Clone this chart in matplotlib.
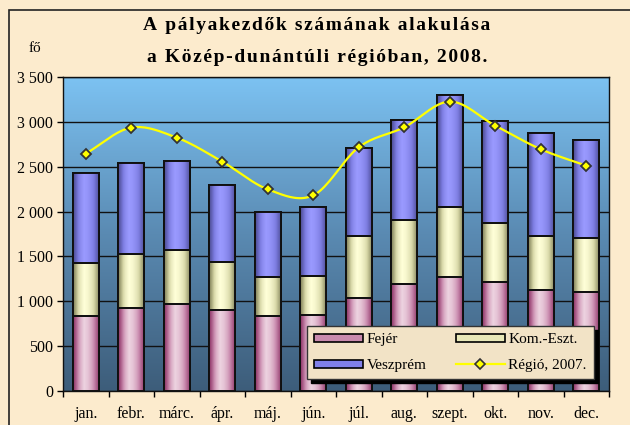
import matplotlib
matplotlib.use("Agg")
import matplotlib.pyplot as plt
import numpy as np
from matplotlib.colors import LinearSegmentedColormap
from matplotlib.patches import Rectangle
from matplotlib.lines import Line2D
from matplotlib.ticker import FuncFormatter, MultipleLocator, FixedLocator

months = ["jan.", "febr.", "márc.", "ápr.", "máj.", "jún.",
          "júl.", "aug.", "szept.", "okt.", "nov.", "dec."]
fejer = [840, 930, 970, 905, 840, 845, 1035, 1190, 1275, 1212, 1123, 1104]
kom_eszt = [585, 600, 600, 538, 428, 434, 695, 720, 773, 658, 609, 605]
veszprem = [1002, 1008, 990, 850, 732, 769, 983, 1115, 1249, 1136, 1141, 1093]
regio_2007 = [2646, 2936, 2824, 2557, 2248, 2181, 2717, 2940, 3226, 2958, 2695, 2512]

SERIF = ["Liberation Serif", "DejaVu Serif"]
plt.rcParams["font.family"] = SERIF


def spaced(s):
    # the original uses a widely spaced title font
    return "\u200a".join(s)


W, H = 630, 425
fig = plt.figure(figsize=(W / 100, H / 100), dpi=100)
fig.patch.set_facecolor("#FCEBCD")

# outer frame (cropped at right/bottom in the original)
fig.patches.append(Rectangle((9 / W, -0.05), 1.2, (H - 10) / H + 0.05, transform=fig.transFigure,
                             fill=False, edgecolor="#222222", lw=1.2))

ax = fig.add_axes([63 / W, (H - 391) / H, 546 / W, 314 / H])
ax.set_facecolor("none")

# plot-area background gradient
bg = LinearSegmentedColormap.from_list("bg", ["#3D5D7A", "#5A8AB2", "#7CC2F2"])
ax.imshow(np.linspace(0, 1, 256).reshape(-1, 1), cmap=bg, aspect="auto",
          extent=(-0.5, 11.5, 0, 3500), origin="lower", zorder=0)

x = np.arange(len(months))
width = 0.57

profile = np.array([0.0, 0.35, 0.75, 1.0, 0.9, 0.7, 0.4, 0.1])
prof = np.interp(np.linspace(0, 1, 64), np.linspace(0, 1, len(profile)), profile).reshape(1, -1)

series = [
    ("Fejér", fejer, ["#8A2F62", "#C98AAE", "#EDD3E0"], "#C98AAE"),
    ("Kom.-Eszt.", kom_eszt, ["#7D7D55", "#D8D8A8", "#FFFFD8"], "#E8E8B8"),
    ("Veszprém", veszprem, ["#4A4A90", "#7C7CE0", "#9A9AFF"], "#8080E8"),
]

bottom = np.zeros(len(months))
for name, vals, cols, mid in series:
    cmap = LinearSegmentedColormap.from_list(name, cols)
    bars = ax.bar(x, vals, width, bottom=bottom, facecolor=mid, edgecolor="black",
                  lw=1.4, zorder=2)
    for b in bars:
        x0, y0 = b.get_x(), b.get_y()
        im = ax.imshow(prof, cmap=cmap, aspect="auto", vmin=0, vmax=1,
                       extent=(x0, x0 + b.get_width(), y0, y0 + b.get_height()), zorder=2.5)
        im.set_clip_path(b)
    ax.bar(x, vals, width, bottom=bottom, facecolor="none", edgecolor="#111111", lw=1.4, zorder=3)
    bottom += np.array(vals)


# smoothed line (Catmull-Rom through the data points, as Excel's smoothing)
def catmull_rom(px, py, n=20):
    px = np.asarray(px, float)
    py = np.asarray(py, float)
    P = np.column_stack([px, py])
    P = np.vstack([P[0] - (P[1] - P[0]), P, P[-1] + (P[-1] - P[-2])])
    out = []
    for i in range(1, len(P) - 2):
        p0, p1, p2, p3 = P[i - 1], P[i], P[i + 1], P[i + 2]
        t = np.linspace(0, 1, n, endpoint=False)[:, None]
        out.append(0.5 * ((2 * p1) + (-p0 + p2) * t + (2 * p0 - 5 * p1 + 4 * p2 - p3) * t ** 2
                          + (-p0 + 3 * p1 - 3 * p2 + p3) * t ** 3))
    out.append(P[-2][None, :])
    out = np.vstack(out)
    return out[:, 0], out[:, 1]


sx, sy = catmull_rom(x, regio_2007)
ax.plot(sx, sy, color="#FFFF00", lw=1.6, zorder=4)
ax.plot(x, regio_2007, ls="none", marker="D", ms=5.5, mfc="#FFFF00", mec="#333333",
        mew=1.3, zorder=5)

# grid + axes
ax.set_xlim(-0.5, 11.5)
ax.set_ylim(0, 3500)
ax.yaxis.set_major_locator(MultipleLocator(500))
ax.yaxis.set_major_formatter(FuncFormatter(lambda v, p: f"{int(v):,}".replace(",", " ")))
ax.grid(axis="y", color="#111111", lw=1.0, zorder=1)
for gl in ax.get_ygridlines():
    gl.set_zorder(1)

ax.set_xticks(x)
ax.set_xticklabels(months)
ax.xaxis.set_minor_locator(FixedLocator(np.arange(-0.5, 12, 1)))
ax.tick_params(axis="x", which="major", length=0, pad=11, labelsize=11.5)
ax.tick_params(axis="x", which="minor", length=4, width=1, direction="out")
ax.tick_params(axis="y", length=4, width=1, direction="out", labelsize=11.5, pad=3)
for s in ax.spines.values():
    s.set_color("#111111")
    s.set_linewidth(1.0)
    s.set_zorder(6)

# legend
handles = [
    Rectangle((0, 0), 1, 1, facecolor="#C98AAE", edgecolor="black", lw=1.2),
    Rectangle((0, 0), 1, 1, facecolor="#8080E8", edgecolor="black", lw=1.2),
    Rectangle((0, 0), 1, 1, facecolor="#E8E8B8", edgecolor="black", lw=1.2),
    Line2D([], [], color="#FFFF00", lw=1.6, marker="D", ms=5, mfc="#FFFF00", mec="#333333", mew=1.2),
]
labels = ["Fejér", "Veszprém", "Kom.-Eszt.", "Régió, 2007."]
leg = ax.legend(handles, labels, ncol=2, loc="lower right", bbox_to_anchor=(0.972, 0.038),
                fontsize=11, frameon=True, fancybox=False, handlelength=3.2, handleheight=0.45,
                handletextpad=0.25, columnspacing=1.9, labelspacing=0.85, borderpad=0.45,
                borderaxespad=0.0,
                shadow={"color": "black", "alpha": 1, "ox": 3, "oy": -3})
leg.get_frame().set_facecolor("#F2E3C6")
leg.get_frame().set_edgecolor("#333333")
leg.get_frame().set_alpha(1)
leg.set_zorder(10)

fig.text(35 / W, 1 - 49 / H, "fő", fontsize=11, ha="center", va="center")
fig.text(317 / W, 1 - 26 / H, spaced("A pályakezdők számának alakulása"), fontsize=14,
         fontweight="bold", ha="center", va="center")
fig.text(317 / W, 1 - 57 / H, spaced("a Közép-dunántúli régióban, 2008."), fontsize=14,
         fontweight="bold", ha="center", va="center")

fig.savefig("out.png", dpi=100, facecolor=fig.get_facecolor())
